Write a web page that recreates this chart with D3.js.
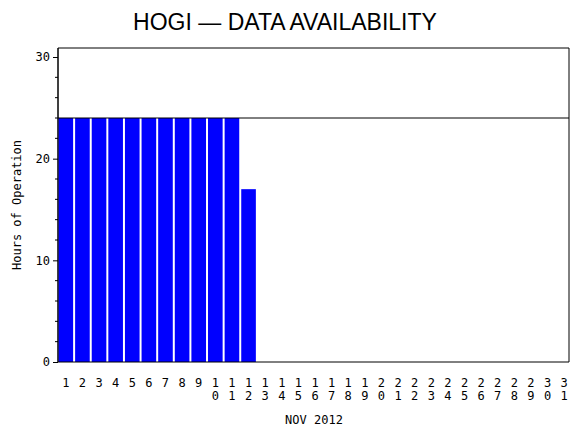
<!DOCTYPE html>
<html><head><meta charset="utf-8">
<script src="https://cdn.jsdelivr.net/npm/d3@7"></script>
<style>body{margin:0;background:#fff}text{font-family:"DejaVu Sans Mono",monospace;fill:#000}</style>
</head><body><svg width="570" height="430"></svg>
<script>
const days = d3.range(1, 32).map(String);
const hours = [24,24,24,24,24,24,24,24,24,24,24,17,0,0,0,0,0,0,0,0,0,0,0,0,0,0,0,0,0,0,0];
const yTicks = [0, 10, 20, 30];
const refLine = 24;
const title = "HOGI \u2014 DATA AVAILABILITY";
const xTitle = "NOV 2012";
const yTitle = "Hours of Operation";

const svg = d3.select("svg");
const L = 58, R = 572, B = 362;
const x = d3.scaleBand().domain(days).range([L, R]).paddingInner(0.12).paddingOuter(0.03);
const y = d3.scaleLinear().domain([0, 30]).range([B, 57]);

svg.append("text").attr("x", 285).attr("y", 30).attr("text-anchor", "middle")
  .style("font-family", "Liberation Sans, Arial").style("font-size", "23px").text(title);

// frame
svg.append("path").attr("d", `M${L},${B}V48H569V${B}`).attr("fill", "none").attr("stroke", "#000");

svg.selectAll("rect.bar").data(hours).join("rect").attr("class", "bar")
  .attr("x", (d, i) => x(days[i])).attr("width", x.bandwidth())
  .attr("y", d => y(d)).attr("height", d => B - y(d)).attr("fill", "#0000ff");

svg.append("line").attr("x1", L).attr("x2", 569).attr("y1", y(refLine)).attr("y2", y(refLine))
  .attr("stroke", "#000");

// y axis
const ya = svg.append("g").attr("transform", `translate(${L},0)`)
  .call(d3.axisLeft(y).tickValues(yTicks).tickSize(5).tickPadding(3));
ya.select(".domain").remove();
ya.selectAll("text").style("font-size", "12px").style("font-family", "DejaVu Sans Mono");
svg.append("g").selectAll("line").data(d3.range(0, 31, 2).filter(v => v % 10)).join("line")
  .attr("x1", L - 3).attr("x2", L).attr("y1", d => y(d)).attr("y2", d => y(d)).attr("stroke", "#000");
svg.append("line").attr("x1", L).attr("x2", L).attr("y1", 48).attr("y2", B).attr("stroke", "#000");

// x labels (stacked digits)
const xl = svg.append("g");
days.forEach(d => {
  const cx = x(d) + x.bandwidth() / 2;
  d.split("").forEach((c, k) => {
    xl.append("text").attr("x", cx).attr("y", 387 + k * 13).attr("text-anchor", "middle")
      .style("font-size", "12px").text(c);
  });
});
svg.append("line").attr("x1", L).attr("x2", 569).attr("y1", B).attr("y2", B).attr("stroke", "#000");

svg.append("text").attr("x", 314).attr("y", 424).attr("text-anchor", "middle")
  .style("font-size", "12px").text(xTitle);
svg.append("text").attr("transform", "translate(21,205) rotate(-90)").attr("text-anchor", "middle")
  .style("font-size", "12px").text(yTitle);
</script></body></html>
